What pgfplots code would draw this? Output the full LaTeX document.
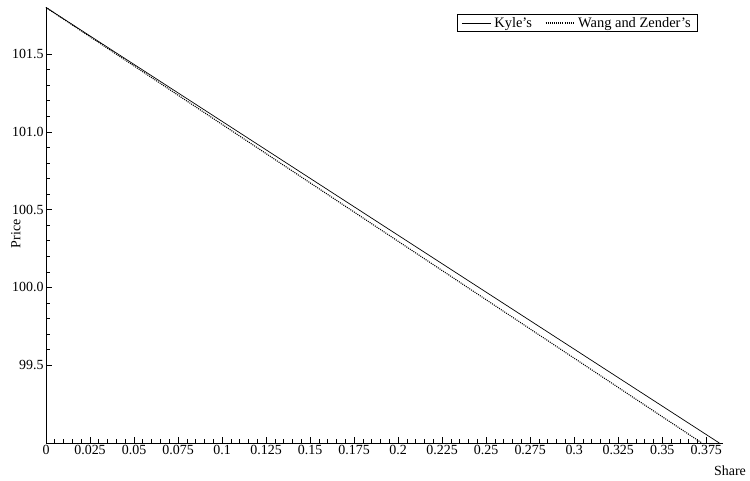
\documentclass[border=0pt]{standalone}
\usepackage{pgfplots}
\pgfplotsset{compat=1.18}
\usepackage{fontspec}
\setmainfont{Liberation Serif}

\begin{document}
\begin{tikzpicture}
\begin{axis}[
  at={(46bp,38bp)}, anchor=south west,
  scale only axis,
  width=677bp, height=436bp,
  xmin=0, xmax=0.3845,
  ymin=99.0, ymax=101.803,
  axis x line=bottom, axis y line=left,
  axis line style={-, line width=0.8bp},
  tick align=inside,
  major tick length=6bp, minor tick length=3.5bp,
  tick style={black, line width=0.7bp},
  xtick={0,0.025,...,0.376},
  xticklabels={0,0.025,0.05,0.075,0.1,0.125,0.15,0.175,0.2,0.225,0.25,0.275,0.3,0.325,0.35,0.375},
  minor x tick num=4,
  ytick={99.5,100.0,100.5,101.0,101.5},
  yticklabels={99.5,100.0,100.5,101.0,101.5},
  minor y tick num=4,
  ticklabel style={font=\fontsize{14}{16}\selectfont},
  xticklabel style={yshift=1bp},
  yticklabel style={xshift=1bp},
  /pgf/number format/assume math mode=true,
  xlabel={Share},
  xlabel style={at={(axis description cs:1.0104,0)}, anchor=north, yshift=-19bp, font=\fontsize{14}{16}\selectfont},
  ylabel={Price},
  ylabel style={at={(axis description cs:0,0.48)}, anchor=south, yshift=22bp, font=\fontsize{14}{16}\selectfont},
  legend columns=2,
  legend image code/.code={\draw[#1] (0bp,0bp) -- (29bp,0bp);},
  legend style={at={(axis description cs:0.963,0.984)}, anchor=north east,
    draw=black, line width=0.6bp, inner xsep=4bp, inner ysep=1bp,
    font=\fontsize{14.5}{16}\selectfont,
    nodes={inner xsep=3bp},
    /tikz/every even column/.append style={column sep=10bp}},
  legend cell align=left,
  clip=false,
]
% Kyle's price schedule
\addplot[black, line width=0.7bp] coordinates {(0,101.8) (0.3824,99.0)};
\addlegendentry{Kyle's}
% Wang and Zender's price schedule
\addplot[black, line width=1.1bp, dash pattern=on 1bp off 1.1bp] coordinates {(0,101.8) (0.3725,99.0)};
\addlegendentry{Wang and Zender's}
\end{axis}
\pgfresetboundingbox
\path (0,0) rectangle (750bp,481bp);
\end{tikzpicture}
\end{document}
